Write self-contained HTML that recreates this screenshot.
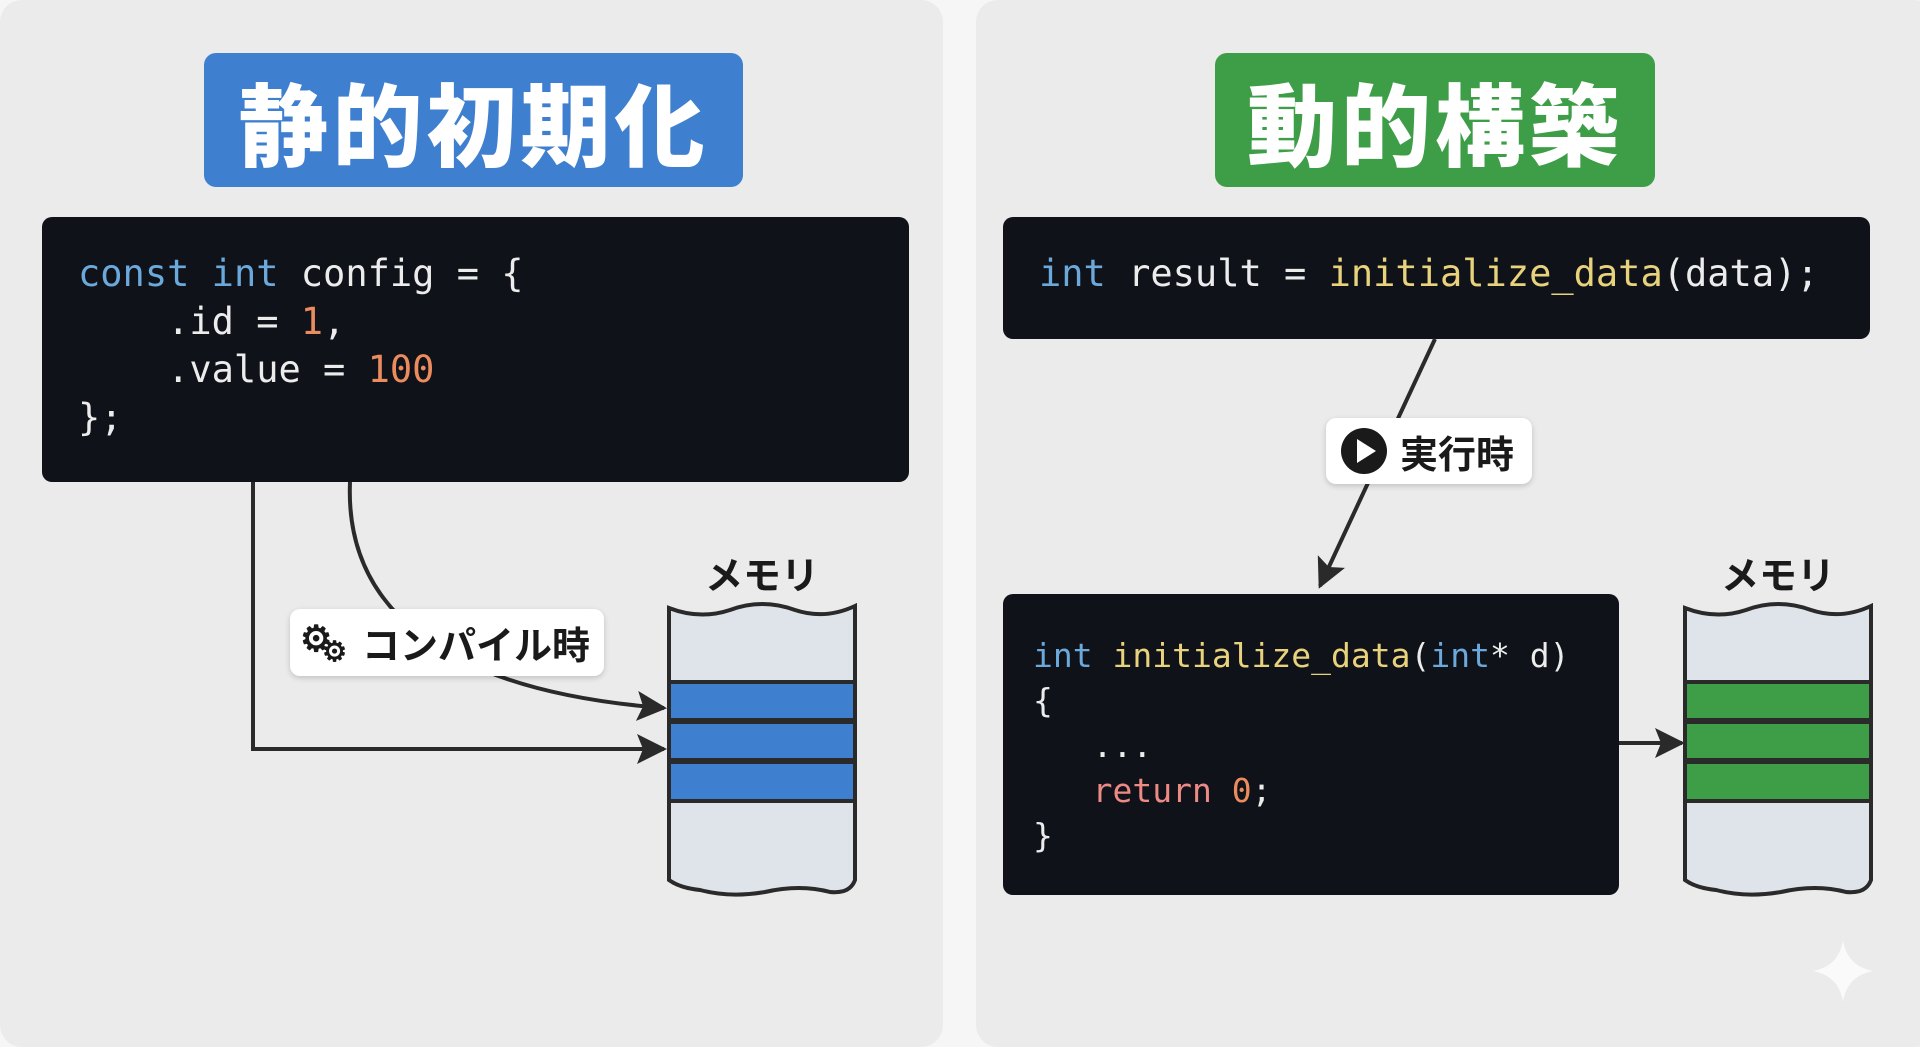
<!DOCTYPE html>
<html><head><meta charset="utf-8"><style>
body{margin:0;width:1920px;height:1047px;background:#f6f6f6;position:relative;overflow:hidden;font-family:"Liberation Sans","Noto Sans CJK JP",sans-serif}
.abs{position:absolute}
.panel{background:#ebebeb;border-radius:22px;top:0;height:1047px}
.title{color:#fff;font-weight:900;font-size:90px;border-radius:12px;display:flex;align-items:center;justify-content:center;letter-spacing:4px;font-family:"Noto Sans CJK JP",sans-serif}
.code{background:#0f1218;border-radius:10px}
.mono{font-family:"DejaVu Sans Mono","Liberation Mono",monospace;font-size:37px;color:#ececec;white-space:pre;line-height:48px}
.k{color:#6ba8db}.n{color:#ec8c5e}.f{color:#e8d27c}.r{color:#ee8a86}
.lbl{background:#fff;border-radius:10px;box-shadow:0 2px 6px rgba(0,0,0,.18);display:flex;align-items:center;font-weight:700;font-size:38px;color:#1a1a1a;font-family:"Noto Sans CJK JP",sans-serif}
.mem{font-weight:700;font-size:38px;color:#1a1a1a;font-family:"Noto Sans CJK JP",sans-serif}
</style></head><body>
<div class="abs panel" style="left:0;width:943px"></div>
<div class="abs panel" style="left:976px;width:960px"></div>

<div class="abs title" style="left:204px;top:53px;width:539px;height:134px;background:#3f7fd0">静的初期化</div>
<div class="abs title" style="left:1215px;top:53px;width:440px;height:134px;background:#3e9e47">動的構築</div>

<div class="abs code" style="left:42px;top:217px;width:867px;height:265px"></div>
<div class="abs mono" style="left:78px;top:250px"><span class="k">const</span> <span class="k">int</span> config = {
    .id = <span class="n">1</span>,
    .value = <span class="n">100</span>
};</div>

<div class="abs code" style="left:1003px;top:217px;width:867px;height:122px"></div>
<div class="abs mono" style="left:1039px;top:250px"><span class="k">int</span> result = <span class="f">initialize_data</span>(data);</div>

<div class="abs code" style="left:1003px;top:594px;width:616px;height:301px"></div>
<div class="abs mono" style="left:1033px;top:633px;line-height:45px;font-size:33px"><span class="k">int</span> <span class="f">initialize_data</span>(<span class="k">int</span>* d)
{
   ...
   <span class="r">return</span> <span class="n">0</span>;
}</div>

<svg class="abs" style="left:0;top:0" width="1920" height="1047">
<defs>
<marker id="b" viewBox="0 0 10 10" refX="9" refY="5" markerWidth="30" markerHeight="30" orient="auto" markerUnits="userSpaceOnUse"><path d="M0,0 L10,5 L0,10 L2,5Z" fill="#2a2a2a"/></marker></defs>
<g fill="none" stroke="#2a2a2a" stroke-width="4">
<path d="M253,482 V749 H664" marker-end="url(#b)"/>
<path d="M350,482 C345,600 430,690 664,708" marker-end="url(#b)"/>
<path d="M1435,339 L1320,586" marker-end="url(#b)"/>
<path d="M1619,743 H1682" marker-end="url(#b)"/>
</g>
<g stroke="#2a2a2a" stroke-width="4">
<path d="M669,608 Q700,620 730,610 Q762,598 795,610 Q825,620 855,606 V880 Q850,894 830,892 Q800,884 765,892 Q730,898 700,890 Q680,888 669,880 Z" fill="#dfe3ea"/>
<rect x="669" y="682" width="186" height="38" fill="#3f7fd0"/>
<rect x="669" y="722" width="186" height="38" fill="#3f7fd0"/>
<rect x="669" y="762" width="186" height="39" fill="#3f7fd0"/>
<path d="M1685,608 Q1716,620 1746,610 Q1778,598 1811,610 Q1841,620 1871,606 V880 Q1866,894 1846,892 Q1816,884 1781,892 Q1746,898 1716,890 Q1696,888 1685,880 Z" fill="#dfe3ea"/>
<rect x="1685" y="682" width="186" height="38" fill="#3e9e47"/>
<rect x="1685" y="722" width="186" height="38" fill="#3e9e47"/>
<rect x="1685" y="762" width="186" height="39" fill="#3e9e47"/>
</g>
<path d="M1843,940 Q1847,966 1873,971 Q1847,976 1843,1002 Q1839,976 1813,971 Q1839,966 1843,940Z" fill="#fafafa"/>
</svg>

<div class="abs lbl" style="left:290px;top:609px;width:314px;height:67px"><span style="position:relative;width:52px;height:50px;margin-left:10px"><span style="position:absolute;left:0;top:-8px;font-size:36px">⚙</span><span style="position:absolute;left:22px;top:12px;font-size:28px">⚙</span></span><span style="margin-left:10px">コンパイル時</span></div>
<div class="abs lbl" style="left:1326px;top:418px;width:206px;height:66px"><svg style="margin-left:14px" width="48" height="48"><circle cx="24" cy="24" r="23" fill="#1a1a1a"/><path d="M17,12 L36,24 L17,36Z" fill="#fff"/></svg><span style="margin-left:12px">実行時</span></div>

<div class="abs mem" style="left:705px;top:545px">メモリ</div>
<div class="abs mem" style="left:1721px;top:545px">メモリ</div>
</body></html>
